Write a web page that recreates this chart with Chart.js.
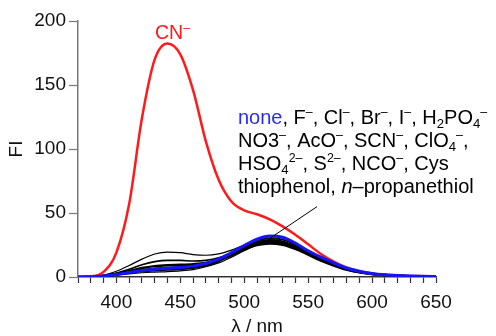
<!DOCTYPE html>
<html>
<head>
<meta charset="utf-8">
<script src="https://cdn.jsdelivr.net/npm/chart.js@4.4.1/dist/chart.umd.min.js"></script>
<style>
html,body{margin:0;padding:0;background:#fff;}
#wrap{width:496px;height:336px;}
</style>
</head>
<body>
<div id="wrap"><canvas id="c" width="496" height="336"></canvas></div>
<script>
// ---- data ----
const wavelengths = [370,380,390,400,410,420,430,440,450,460,470,480,490,500,510,520,530,540,550,560,570,580,590,600,610,620,630,640,650];
const cnValues   = [0,0.4,4,19,57,124,170,182.5,174,146,106,76,59,52,49,45,39.5,33,25.5,18,12,7.5,4.5,2.8,1.8,1.2,0.8,0.5,0.3];
const noneValues = [0,0.2,0.8,2,3.5,5,6,6.8,7.5,8.5,10.5,14,19,24.5,29.5,32,31,26.5,20.5,15.5,11,7,4.5,2.8,1.8,1.2,0.8,0.5,0.3];
const other1 = [0,0.3,1.5,4.5,9,14,18,19.5,19,17.5,17,18,21,25,28.5,30,29,25.5,20,15,10.5,6.5,4,2.5,1.6,1,0.7,0.4,0.3];
const other2 = [0,0.2,1,3,6,9.5,12,13,13,12.5,13,15,19,23.5,27.5,29,28,24.5,19.5,14.5,10,6.5,4,2.5,1.6,1,0.7,0.4,0.3];
const other3 = [0,0.2,0.8,2.5,4.5,7,8.5,9.2,9.5,10,11,13.5,17.5,22,26,27.5,26.5,23,18.5,13.5,9.5,6,3.8,2.4,1.5,1,0.6,0.4,0.3];
const other4 = [0,0.1,0.5,1.5,2.5,3.3,3.8,4.2,4.8,5.8,8,11,15.5,20.5,25,27,26,22.5,18,13,9,5.8,3.6,2.3,1.5,1,0.6,0.4,0.3];
const other5 = [0,0.2,0.7,2,3.5,4.6,5.3,5.8,6.3,7.2,9.2,12.5,17,21.5,25,26.2,25.2,22,17.5,12.8,9,5.8,3.6,2.3,1.5,1,0.6,0.4,0.3];
const other6 = [0,0.2,0.8,2.2,3.8,5.2,6.2,6.6,7,8,10,13.5,18.5,24,28.5,30.5,29.5,25.5,20,15,10.5,6.8,4.2,2.6,1.7,1.1,0.7,0.4,0.3];
const other7 = [0,0.2,0.9,2.4,4,5.6,6.6,7.2,7.8,8.8,10.5,13.5,17.8,22.5,26.5,28,27,23.5,18.8,13.8,9.6,6.2,3.9,2.4,1.6,1,0.6,0.4,0.3];
const leaderX = [557, 520.5];
const leaderY = [55, 30.5];
const yTicks = [0,50,100,150,200];
const xMajorTicks = [400,450,500,550,600,650];

const FONT = '"Liberation Sans", Arial, Helvetica, sans-serif';
const pts = v => wavelengths.map((w,i)=>({x:w,y:v[i]}));

function blackSet(v, w){
  return {data:pts(v), borderColor:'#000', borderWidth:w, pointRadius:0, cubicInterpolationMode:'monotone', order:3, fill:false};
}

// annotation text
const annLines = [
  [['none','n','#2a2aff'],[', F'],['–','sup'],[', Cl'],['–','sup'],[', Br'],['–','sup'],[', I'],['–','sup'],[', H'],['2','sub'],['PO'],['4','sub'],['–','sup']],
  [['NO3'],['–','sup'],[', AcO'],['–','sup'],[', SCN'],['–','sup'],[', ClO'],['4','sub'],['–','sup'],[',']],
  [['HSO'],['4','sub'],['2–','sup'],[', S'],['2–','sup'],[', NCO'],['–','sup'],[', Cys']],
  [['thiophenol, '],['n','i'],['–propanethiol']]
];
const cnLabel = [['CN','n','#ff1a1a'],['–','sup','#ff1a1a']];

function drawRich(ctx, x, y, segs, size){
  for (const seg of segs){
    const t = seg[0], s = seg[1]||'n', c = seg[2]||'#000';
    let fs = size, dy = 0, st = '';
    if (s==='sup'){ fs = size*0.62; dy = -size*0.38; }
    if (s==='sub'){ fs = size*0.66; dy = size*0.2; }
    if (s==='i') st = 'italic ';
    ctx.font = st + fs + 'px ' + FONT;
    ctx.fillStyle = c;
    ctx.textAlign = 'left';
    ctx.textBaseline = 'alphabetic';
    ctx.fillText(t, x, y+dy);
    x += ctx.measureText(t).width;
  }
}

const textPlugin = {
  id:'textPlugin',
  afterDatasetsDraw(chart){
    const ctx = chart.ctx;
    ctx.save();
    drawRich(ctx, 155, 39, cnLabel, 19.5);
    const base = [124,147,170,193];
    annLines.forEach((l,i)=>drawRich(ctx, 238, base[i], l, 20));
    ctx.restore();
  }
};

new Chart(document.getElementById('c'), {
  type:'line',
  data:{
    datasets:[
      {data:leaderX.map((x,i)=>({x, y:leaderY[i]})), borderColor:'#000', borderWidth:1, pointRadius:0, order:0, tension:0},
      {data:pts(noneValues), borderColor:'#1414ff', borderWidth:3, pointRadius:0, cubicInterpolationMode:'monotone', order:1},
      {data:pts(cnValues), borderColor:'#ff1a1a', borderWidth:2.5, pointRadius:0, cubicInterpolationMode:'monotone', order:2},
      blackSet(other1,1.2),
      blackSet(other2,1.6),
      blackSet(other3,2.5),
      blackSet(other4,1.2),
      blackSet(other5,2.5),
      blackSet(other6,1.2),
      blackSet(other7,2.2)
    ]
  },
  options:{
    responsive:false,
    animation:false,
    events:[],
    layout:{padding:{left:0,right:60,top:21,bottom:0}},
    plugins:{legend:{display:false}, tooltip:{enabled:false}},
    scales:{
      x:{
        type:'linear', min:370, max:650,
        afterFit(s){ s.height = 59; },
        border:{display:true, color:'#333', width:1.5},
        grid:{drawOnChartArea:false, drawTicks:true, tickLength:6, color:'#333', tickWidth:1.2},
        ticks:{stepSize:10, autoSkip:false, maxRotation:0, padding:8, color:'#111',
          font:{family:FONT, size:19},
          callback:v => xMajorTicks.includes(v) ? String(v) : ''},
        title:{display:true, text:'λ / nm', color:'#111', font:{family:FONT, size:19, lineHeight:1}, padding:{top:0,bottom:0}}
      },
      y:{
        min:0, max:200,
        afterFit(s){ s.width = 78; },
        afterBuildTicks(s){ s.ticks = yTicks.map(v=>({value:v})); },
        border:{display:true, color:'#777', width:1.5},
        grid:{drawOnChartArea:false, drawTicks:true, tickLength:9, color:'#777', tickWidth:1.2},
        ticks:{padding:3, color:'#111', font:{family:FONT, size:19}},
        title:{display:true, text:'FI', color:'#111', font:{family:FONT, size:19, lineHeight:1}, padding:{top:7,bottom:0}}
      }
    }
  },
  plugins:[textPlugin]
});
</script>
</body>
</html>
